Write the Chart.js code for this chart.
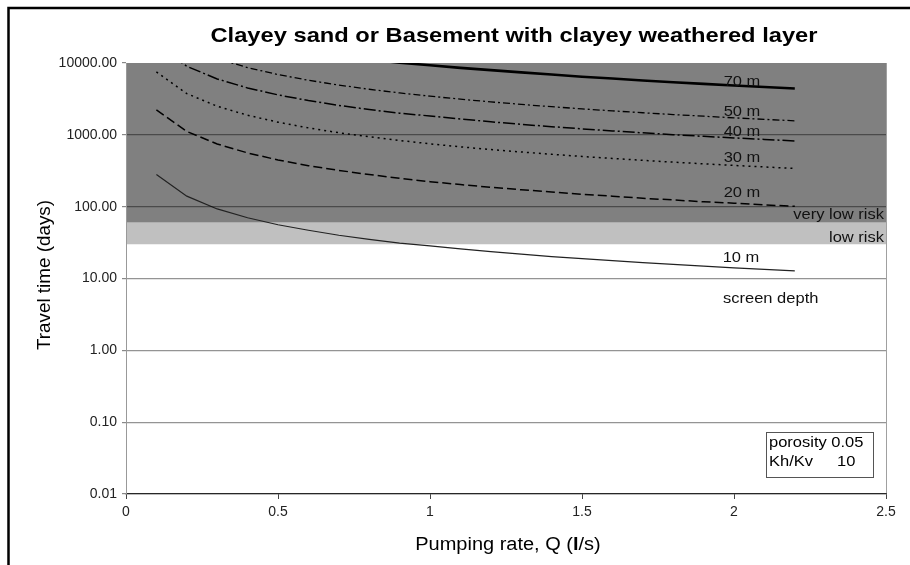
<!DOCTYPE html>
<html lang="en">
<head>
<meta charset="UTF-8">
<title>Clayey sand or Basement with clayey weathered layer</title>
<script src="https://cdn.jsdelivr.net/npm/chart.js"></script>
<style>
  html, body { margin: 0; padding: 0; background: #fff; }
  #wrap { width: 910px; height: 565px; }
</style>
</head>
<body>
<div id="wrap"><canvas id="myChart" width="910" height="565"></canvas></div>
<script>
// pumping rate Q (l/s)
const pumpingRate = [0.1, 0.2, 0.3, 0.4, 0.5, 0.6, 0.7, 0.8, 0.9, 1.0, 1.1,
                     1.2, 1.3, 1.4, 1.5, 1.6, 1.7, 1.8, 1.9, 2.0, 2.1, 2.2];

// travel time (days) per screen depth
const depth10 = [280, 140, 93, 70, 56, 47, 40, 35, 31, 28.5, 25.8, 23.6, 21.8, 20.2,
                 18.9, 17.7, 16.6, 15.7, 14.9, 14.1, 13.4, 12.8];
const depth20 = [2230, 1115, 745, 560, 447, 372, 320, 280, 248, 223, 203, 186, 172, 160,
                 149, 140, 131, 124, 117, 112, 106, 101];
const depth30 = [7500, 3750, 2500, 1875, 1500, 1250, 1070, 940, 835, 750, 680, 625, 577, 536,
                 500, 470, 441, 417, 395, 375, 357, 341];
const depth40 = [18000, 9000, 6000, 4500, 3600, 3000, 2570, 2250, 2000, 1830, 1660, 1520, 1400, 1300,
                 1210, 1135, 1065, 1005, 952, 905, 862, 822];
const depth50 = [34500, 17250, 11500, 8625, 6900, 5750, 4930, 4310, 3830, 3450, 3136, 2875, 2654, 2464,
                 2300, 2156, 2029, 1917, 1816, 1725, 1643, 1568];
const depth70 = [80000, 41000, 28000, 21500, 17500, 14700, 12700, 11200, 10100, 9300, 8550, 7950, 7400, 6900,
                 6450, 6070, 5720, 5400, 5120, 4870, 4630, 4420];

const yTicks = [0.01, 0.1, 1, 10, 100, 1000, 10000];
const xTicks = [0, 0.5, 1, 1.5, 2, 2.5];

// risk bands (days)
const veryLowRisk = [60, 10000];
const lowRisk = [30, 60];

const FONT = "'Liberation Sans', Arial, sans-serif";

function pts(ys) {
    return pumpingRate.map((q, i) => ({ x: q, y: ys[i] }));
}

function curve(label, ys, width, dash, color) {
    return {
        label: label,
        data: pts(ys),
        borderColor: color || '#000',
        borderWidth: width,
        borderDash: dash,
        pointRadius: 0,
        fill: false,
        tension: 0,
        order: 0
    };
}

function band(range, colour) {
    return {
        label: 'band',
        data: [{ x: xTicks[0], y: range[1] }, { x: xTicks[xTicks.length - 1], y: range[1] }],
        borderWidth: 0,
        pointRadius: 0,
        backgroundColor: colour,
        fill: { value: range[0] },
        order: 10
    };
}

// text stretched horizontally by factor sx (the original is a little wide)
function stretchText(ctx, text, x, y, align, sx) {
    const w = ctx.measureText(text).width * sx;
    let left = x;
    if (align === 'center') left = x - w / 2;
    if (align === 'right') left = x - w;
    ctx.save();
    ctx.textAlign = 'left';
    ctx.translate(left, y);
    ctx.scale(sx, 1);
    ctx.fillText(text, 0, 0);
    ctx.restore();
    return w;
}

const overlay = {
    id: 'overlay',
    afterDraw(chart) {
        const ctx = chart.ctx;
        ctx.save();

        // outer frame
        ctx.strokeStyle = '#000';
        ctx.lineWidth = 2.5;
        ctx.beginPath();
        ctx.moveTo(8.5, 565);
        ctx.lineTo(8.5, 8);
        ctx.lineTo(910, 8);
        ctx.stroke();

        ctx.fillStyle = '#000';
        ctx.textBaseline = 'middle';

        // title
        ctx.font = 'bold 21px ' + FONT;
        const title = 'Clayey sand or Basement with clayey weathered layer';
        stretchText(ctx, title, 514, 36, 'center', 607 / ctx.measureText(title).width);

        // x axis title, with a bold l
        const sxX = 1.11;
        ctx.font = '18px ' + FONT;
        const w1 = ctx.measureText('Pumping rate, Q (').width * sxX;
        const w3 = ctx.measureText('/s)').width * sxX;
        ctx.font = 'bold 18px ' + FONT;
        const w2 = ctx.measureText('l').width * sxX;
        const x0 = 508 - (w1 + w2 + w3) / 2;
        ctx.font = '18px ' + FONT;
        stretchText(ctx, 'Pumping rate, Q (', x0, 545, 'left', sxX);
        ctx.font = 'bold 18px ' + FONT;
        stretchText(ctx, 'l', x0 + w1, 545, 'left', sxX);
        ctx.font = '18px ' + FONT;
        stretchText(ctx, '/s)', x0 + w1 + w2, 545, 'left', sxX);

        ctx.save();
        ctx.translate(45, 275);
        ctx.rotate(-Math.PI / 2);
        ctx.font = '18px ' + FONT;
        stretchText(ctx, 'Travel time (days)', 0, 0, 'center', 150 / ctx.measureText('Travel time (days)').width);
        ctx.restore();

        // curve and band labels
        const sx = 1.1;
        ctx.font = '15px ' + FONT;
        ctx.fillStyle = '#111';
        stretchText(ctx, '70 m', 742, 82, 'center', sx);
        stretchText(ctx, '50 m', 742, 112, 'center', sx);
        stretchText(ctx, '40 m', 742, 132, 'center', sx);
        stretchText(ctx, '30 m', 742, 158, 'center', sx);
        stretchText(ctx, '20 m', 742, 193, 'center', sx);
        stretchText(ctx, '10 m', 741, 258, 'center', sx);
        stretchText(ctx, 'very low risk', 884, 215, 'right', sx);
        stretchText(ctx, 'low risk', 884, 238, 'right', sx);
        stretchText(ctx, 'screen depth', 723, 299, 'left', sx);

        // parameter box
        ctx.fillStyle = '#fff';
        ctx.fillRect(766, 432, 107, 45);
        ctx.strokeStyle = '#555';
        ctx.lineWidth = 1;
        ctx.strokeRect(766.5, 432.5, 107, 45);
        ctx.fillStyle = '#000';
        stretchText(ctx, 'porosity 0.05', 769, 443, 'left', sx);
        stretchText(ctx, 'Kh/Kv', 769, 462, 'left', sx);
        stretchText(ctx, '10', 837, 462, 'left', sx);

        ctx.restore();
    }
};

const ctx = document.getElementById('myChart').getContext('2d');
const chart = new Chart(ctx, {
    type: 'line',
    data: {
        datasets: [
            band(veryLowRisk, '#808080'),
            band(lowRisk, '#c0c0c0'),
            curve('70 m', depth70, 2.6, []),
            curve('50 m', depth50, 1.3, [7, 3, 2, 3]),
            curve('40 m', depth40, 1.5, [12, 3, 2, 3]),
            curve('30 m', depth30, 1.5, [2, 4]),
            curve('20 m', depth20, 1.5, [9, 4]),
            curve('10 m', depth10, 1.2, [], '#222')
        ]
    },
    options: {
        responsive: false,
        animation: false,
        devicePixelRatio: 1,
        layout: { padding: { top: 63, right: 24, left: 0, bottom: 0 } },
        plugins: {
            legend: { display: false },
            tooltip: { enabled: false },
            title: { display: false }
        },
        scales: {
            x: {
                type: 'linear',
                min: 0,
                max: 2.5,
                afterBuildTicks: (scale) => { scale.ticks = xTicks.map(v => ({ value: v })); },
                afterFit: (scale) => { scale.height = 71; },
                ticks: {
                    color: '#222',
                    font: { family: FONT, size: 14 },
                    padding: 5,
                    maxRotation: 0,
                    callback: (v) => String(v)
                },
                grid: {
                    z: 1,
                    color: (c) => (c.tick && c.tick.value === 2.5 ? '#a0a0a0' : 'rgba(0,0,0,0)'),
                    tickColor: '#444',
                    tickLength: 5,
                    lineWidth: 1
                },
                border: { z: 1, color: '#444', width: 1.2 }
            },
            y: {
                type: 'logarithmic',
                min: 0.01,
                max: 10000,
                afterBuildTicks: (scale) => { scale.ticks = yTicks.map(v => ({ value: v })); },
                afterFit: (scale) => { scale.width = 126; },
                ticks: {
                    color: '#222',
                    font: { family: FONT, size: 14 },
                    padding: 5,
                    callback: (v) => Number(v).toFixed(2)
                },
                grid: {
                    z: 1,
                    color: (c) => (c.tick && c.tick.value === 10000 ? 'rgba(0,0,0,0)' : 'rgba(0,0,0,0.42)'),
                    tickColor: '#888',
                    tickLength: 4,
                    lineWidth: 1.2
                },
                border: { z: 1, color: '#999', width: 1 }
            }
        }
    },
    plugins: [overlay]
});
</script>
</body>
</html>
